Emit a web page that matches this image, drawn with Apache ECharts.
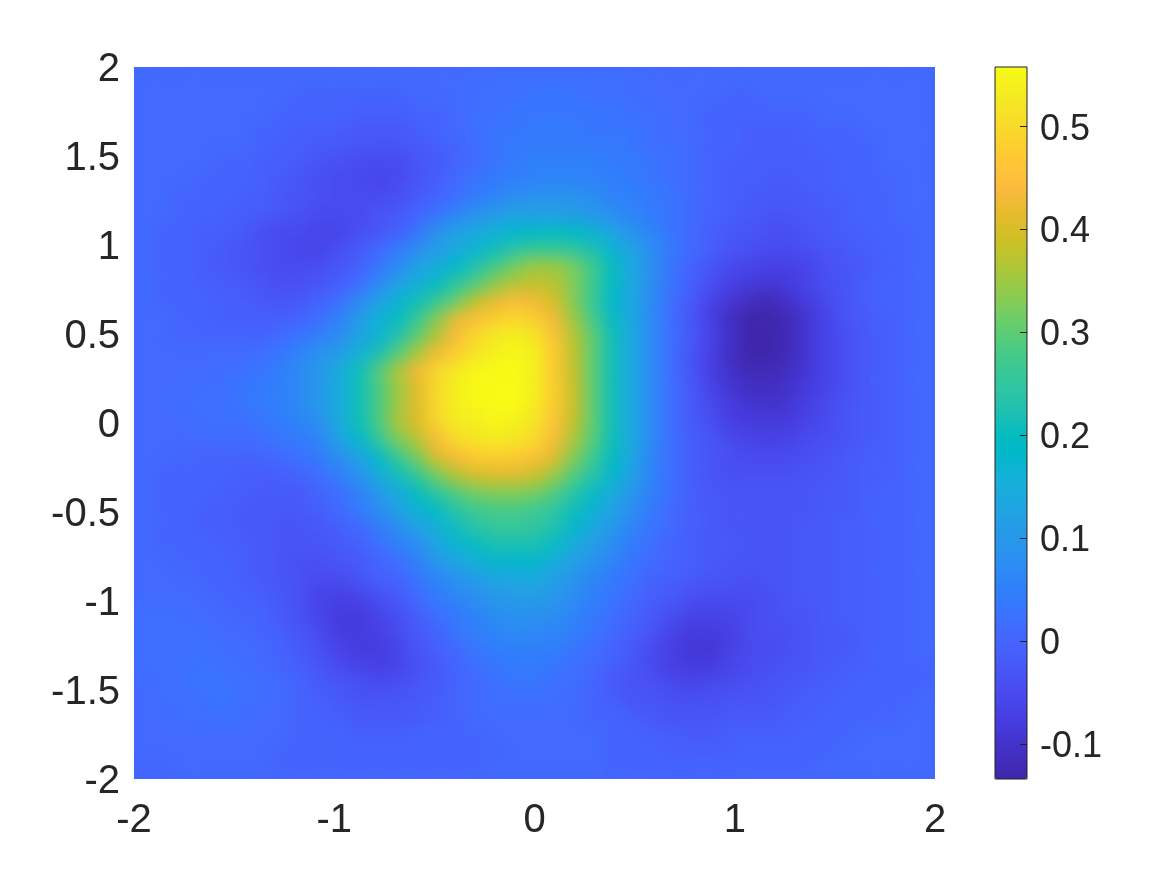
<!DOCTYPE html>
<html><head><meta charset="utf-8">
<style>html,body{margin:0;padding:0;background:#fff}#c{width:1167px;height:875px}</style>
<script src="https://cdn.jsdelivr.net/npm/echarts@6/dist/echarts.min.js"></script>
</head><body><div id="c"></div>
<script>
// cell values, in hundredths; rows run from y=2 (top) to y=-2, columns x=-2 to x=2
const xCells=[-2,-1.9,-1.8,-1.7,-1.6,-1.5,-1.4,-1.3,-1.2,-1.1,-1,-.9,-.8,-.7,-.6,-.5,-.4,-.3,-.2,-.1,0,.1,.2,.3,.4,.5,.6,.7,.8,.9,1,1.1,1.2,1.3,1.4,1.5,1.6,1.7,1.8,1.9,2];
const yCells=[2,1.9,1.8,1.7,1.6,1.5,1.4,1.3,1.2,1.1,1,.9,.8,.7,.6,.5,.4,.3,.2,.1,0,-.1,-.2,-.3,-.4,-.5,-.6,-.7,-.8,-.9,-1,-1.1,-1.2,-1.3,-1.4,-1.5,-1.6,-1.7,-1.8,-1.9,-2];
const valueRows=[
[1,1,1,1,1,1,1,1,1,1,1,1,1,1,1,1,1,1,2,2,2,2,2,2,2,1,1,1,1,1,1,1,1,1,1,1,1,1,1,1,1],
[1,1,1,1,1,1,1,1,0,0,0,0,0,0,1,1,1,2,2,2,3,3,3,2,2,2,1,1,1,1,0,0,1,1,1,1,1,1,1,1,1],
[1,1,1,1,1,1,1,0,0,0,0,-1,-1,-1,0,0,1,2,2,3,3,3,3,3,3,2,2,1,1,0,0,0,0,0,0,1,1,1,1,1,1],
[1,1,1,1,1,1,0,0,-1,-1,-1,-2,-2,-2,-1,0,1,2,3,3,4,4,4,3,3,3,2,1,1,0,0,-1,-1,-1,0,0,0,1,1,1,1],
[1,1,1,1,1,1,0,-1,-1,-2,-2,-3,-3,-3,-2,-1,0,2,3,4,4,4,4,4,4,3,2,2,1,0,0,-1,-1,-1,-1,0,0,0,1,1,1],
[1,1,1,1,0,0,-1,-1,-2,-3,-4,-5,-5,-5,-3,-2,0,1,3,4,5,5,5,5,4,4,3,2,1,0,-1,-1,-1,-1,-1,-1,0,0,1,1,1],
[1,1,1,0,0,0,-1,-2,-3,-4,-5,-5,-6,-5,-3,-1,1,3,4,5,6,6,6,6,5,4,3,2,1,0,-1,-1,-2,-2,-1,-1,0,0,0,1,1],
[1,1,0,0,0,-1,-1,-2,-3,-4,-5,-5,-5,-4,-2,0,2,4,6,8,9,9,9,8,6,5,4,3,1,0,-1,-2,-2,-2,-2,-1,-1,0,0,1,1],
[1,1,0,0,-1,-1,-2,-3,-4,-5,-5,-5,-3,-2,0,3,6,9,11,12,12,12,11,10,8,6,4,3,1,0,-1,-2,-3,-3,-2,-2,-1,0,0,1,1],
[1,0,0,-1,-1,-2,-4,-5,-5,-6,-6,-4,-3,-1,3,9,12,14,16,18,19,20,19,17,13,9,6,3,1,-1,-2,-3,-4,-4,-3,-2,-1,-1,0,0,1],
[1,0,0,-1,-2,-3,-4,-5,-6,-6,-4,-2,1,4,8,11,14,17,21,24,26,26,25,22,17,12,8,4,1,-1,-3,-4,-5,-5,-4,-3,-2,-1,0,0,1],
[1,0,0,-1,-2,-3,-4,-5,-5,-4,-3,-1,3,7,12,15,19,23,28,32,35,35,32,27,20,14,8,3,0,-3,-5,-6,-7,-7,-6,-4,-3,-2,-1,0,1],
[1,0,0,-1,-1,-2,-3,-4,-4,-3,-1,2,7,12,16,20,25,29,34,37,38,37,33,27,20,14,8,3,-1,-4,-7,-8,-9,-8,-6,-4,-3,-1,0,0,1],
[1,0,0,0,-1,-1,-2,-3,-2,0,2,7,12,17,21,26,31,38,42,44,43,40,33,26,18,13,7,2,-2,-6,-9,-11,-12,-10,-8,-5,-3,-1,0,0,1],
[1,1,0,0,-1,-1,-1,-1,0,2,5,11,16,20,26,33,42,45,48,50,48,43,35,28,20,14,7,2,-3,-7,-11,-13,-13,-12,-9,-6,-3,-2,-1,0,1],
[1,1,0,0,0,0,0,1,3,5,8,12,17,23,30,37,44,50,53,54,52,46,37,30,21,14,7,2,-2,-6,-10,-13,-13,-12,-9,-6,-4,-2,-1,0,1],
[1,1,1,1,1,1,2,3,6,9,11,16,22,29,36,43,48,52,54,55,54,47,38,30,21,14,7,2,-3,-7,-11,-13,-13,-12,-9,-6,-4,-2,-1,0,1],
[1,1,1,1,2,2,3,5,7,10,15,21,29,36,43,50,53,55,56,56,54,47,38,30,21,14,7,2,-3,-7,-10,-12,-12,-11,-9,-6,-4,-2,-1,0,1],
[1,1,1,2,2,3,4,5,7,10,15,21,28,35,41,50,54,56,56,56,54,48,39,30,21,14,7,2,-2,-6,-9,-11,-11,-10,-8,-6,-4,-2,-1,0,1],
[1,1,2,2,2,3,4,5,7,10,15,21,28,35,41,50,54,55,56,56,53,47,39,30,21,14,7,2,-2,-5,-8,-9,-10,-9,-7,-5,-3,-2,-1,0,1],
[1,1,1,2,2,2,3,4,6,8,15,21,28,36,41,49,53,54,55,54,52,46,38,30,21,14,7,2,-2,-4,-7,-8,-8,-8,-6,-5,-3,-2,-1,0,1],
[1,1,1,1,1,1,2,3,4,6,12,18,25,32,37,44,50,52,53,52,50,44,36,29,21,14,7,2,-1,-3,-5,-6,-7,-6,-5,-4,-3,-2,-1,0,1],
[1,1,0,0,0,0,0,1,2,4,8,12,18,26,32,40,44,47,48,47,45,41,33,27,20,13,6,2,-1,-3,-4,-5,-5,-5,-4,-3,-2,-1,-1,0,1],
[1,0,0,0,0,-1,-1,-1,0,2,5,9,15,21,26,32,37,40,41,41,39,35,29,24,18,12,6,2,-1,-3,-4,-4,-4,-4,-3,-3,-2,-1,-1,0,1],
[1,0,0,0,-1,-1,-2,-2,-2,0,2,5,10,15,20,25,29,32,33,33,32,29,24,20,15,10,5,2,-1,-2,-3,-3,-3,-3,-3,-2,-2,-1,0,0,1],
[1,0,0,-1,-1,-2,-2,-2,-2,-1,1,4,8,12,17,20,24,27,28,28,27,25,21,17,12,8,4,1,-1,-2,-3,-3,-3,-3,-3,-2,-2,-1,0,0,1],
[1,0,0,-1,-1,-2,-2,-3,-3,-2,-1,1,4,8,12,16,21,24,26,26,25,23,18,14,10,6,3,1,-1,-2,-3,-3,-3,-3,-2,-2,-1,-1,0,0,1],
[1,0,0,0,-1,-1,-2,-3,-3,-3,-2,-1,2,5,8,13,17,20,22,22,22,20,15,11,8,4,2,0,-1,-2,-2,-3,-3,-3,-2,-2,-1,-1,0,0,1],
[1,1,0,0,0,-1,-2,-3,-4,-4,-3,-2,0,2,5,10,13,16,18,18,18,15,12,9,6,3,1,0,-1,-2,-3,-3,-3,-3,-2,-2,-1,-1,0,0,1],
[1,1,1,0,0,-1,-2,-3,-4,-5,-5,-3,-1,0,3,6,9,11,13,14,14,12,9,6,4,2,0,-1,-2,-3,-3,-4,-3,-3,-2,-2,-1,-1,0,0,1],
[1,1,1,1,0,0,-1,-2,-4,-6,-7,-6,-4,-2,1,4,6,8,10,11,11,10,8,5,3,1,-1,-2,-4,-5,-5,-5,-4,-3,-2,-2,-1,-1,0,0,1],
[2,2,2,1,1,0,0,-2,-4,-6,-8,-8,-6,-4,-1,2,4,6,8,9,9,8,6,4,2,0,-2,-4,-6,-6,-6,-5,-4,-3,-3,-2,-1,-1,0,0,1],
[2,2,2,2,1,1,0,-1,-3,-5,-8,-8,-7,-5,-2,0,3,5,6,7,7,6,5,3,1,-1,-3,-6,-8,-8,-7,-5,-4,-4,-3,-2,-2,-1,0,0,1],
[2,2,2,2,2,1,1,0,-2,-4,-6,-8,-8,-6,-3,-1,1,3,5,5,5,5,3,2,0,-2,-5,-7,-9,-9,-7,-5,-5,-4,-3,-2,-2,-1,0,0,1],
[2,2,2,3,2,2,1,0,-1,-3,-5,-6,-7,-6,-4,-2,0,2,3,4,4,3,2,1,-1,-3,-5,-7,-8,-8,-6,-5,-4,-3,-3,-2,-1,-1,0,0,0],
[1,2,2,3,3,2,2,1,0,-2,-3,-4,-5,-4,-3,-2,0,1,2,3,3,2,2,0,-2,-3,-4,-5,-6,-5,-5,-4,-3,-3,-2,-1,-1,0,0,0,0],
[1,2,2,2,3,2,2,1,0,-1,-2,-3,-3,-3,-2,-1,0,1,2,2,2,2,1,0,-1,-3,-3,-4,-4,-4,-3,-3,-3,-2,-1,-1,0,0,0,0,1],
[1,1,2,2,2,2,1,1,0,0,-1,-2,-2,-2,-2,-1,0,1,1,1,1,1,1,0,0,-1,-2,-3,-3,-3,-2,-2,-2,-1,-1,0,0,0,0,1,1],
[1,1,1,1,1,1,1,1,0,0,0,-1,-1,-1,0,0,0,0,1,1,1,1,1,1,0,0,-1,-1,-2,-2,-1,-1,-1,-1,0,0,0,1,1,1,1],
[1,1,1,1,1,1,1,0,0,0,0,0,0,0,0,0,0,0,0,1,1,1,1,1,0,0,0,-1,-1,-1,-1,0,0,0,0,0,1,1,1,1,1],
[0,0,1,1,1,1,1,0,0,0,0,0,0,0,0,0,0,0,1,1,1,1,1,1,0,0,0,0,0,0,0,0,0,0,0,1,1,1,1,1,1]
];
const colorbarTicks=[-0.1,0,0.1,0.2,0.3,0.4,0.5];
const colorMin=-0.134, colorMax=0.558;
const parula=[[.2422,.1504,.6603],[.2504,.165,.7076],[.2578,.1818,.7511],[.2647,.1978,.7952],[.2706,.2147,.8364],[.2751,.2342,.871],[.2783,.2559,.8991],[.2803,.2782,.9221],[.2813,.3006,.9414],[.281,.3228,.9579],[.2795,.3447,.9717],[.276,.3667,.9829],[.2699,.3892,.9906],[.2602,.4123,.9952],[.244,.4358,.9988],[.2206,.4603,.9973],[.1963,.4847,.9892],[.1834,.5074,.9798],[.1786,.5289,.9682],[.1764,.5499,.952],[.1687,.5703,.9359],[.154,.5902,.9218],[.146,.6091,.9079],[.138,.6276,.8973],[.1248,.6459,.8883],[.1113,.6635,.8763],[.0952,.6798,.8598],[.0689,.6948,.8394],[.0297,.7082,.8163],[.0036,.7203,.7917],[.0067,.7312,.766],[.0433,.7411,.7394],[.0964,.75,.712],[.1408,.7584,.6842],[.1717,.767,.6554],[.1938,.7758,.6251],[.2161,.7843,.5923],[.247,.7918,.5567],[.2906,.7973,.5188],[.3406,.8008,.4789],[.3909,.8029,.4354],[.4456,.8024,.3909],[.5044,.7993,.348],[.5616,.7942,.3045],[.6174,.7876,.2612],[.672,.7793,.2227],[.7242,.7698,.191],[.7738,.7598,.1646],[.8203,.7498,.1535],[.8634,.7406,.1596],[.9035,.733,.1774],[.9393,.7288,.21],[.9728,.7298,.2394],[.9956,.7434,.2371],[.997,.7659,.2199],[.9952,.7861,.2028],[.9892,.8122,.185],[.9814,.8363,.1778],[.9739,.8597,.1647],[.9655,.884,.1515],[.9596,.9084,.1398],[.9595,.9329,.1238],[.9634,.9584,.1],[.9769,.9839,.0805]];
const colors=parula.map(c=>`rgb(${c.map(v=>Math.round(v*255)).join(',')})`);
const cells=[];
valueRows.forEach((row,j)=>row.forEach((v,i)=>cells.push([i,j,v/100])));
const ink='#262626';
const font={fontFamily:'Liberation Sans',color:ink};
const off={axisLine:{show:false,onZero:false},axisTick:{show:false},splitLine:{show:false}};
const chart=echarts.init(document.getElementById('c'),null,{renderer:'canvas'});
chart.setOption({
  animation:false,backgroundColor:'#fff',
  grid:[
    {left:134,top:67,width:801,height:712,show:true,borderWidth:0,backgroundColor:'rgb(66,105,254)'},
    {left:995,top:67,width:32,height:712,show:true,borderColor:'#222',borderWidth:1,backgroundColor:'transparent',z:6},
    {left:134,top:70,width:801,height:712},   // y tick labels sit 3px under their ticks in the reference
    {left:995,top:70,width:32,height:712}
  ],
  xAxis:[
    {type:'category',gridIndex:0,data:xCells,show:false},
    {type:'value',gridIndex:0,min:-2,max:2,interval:1,position:'bottom',...off,axisLabel:{...font,fontSize:40,margin:22,showMinLabel:true,showMaxLabel:true}},
    {type:'value',gridIndex:1,min:0,max:1,show:false},
    {type:'value',gridIndex:2,min:0,max:1,show:false},
    {type:'value',gridIndex:3,min:0,max:1,show:false}
  ],
  yAxis:[
    {type:'category',gridIndex:0,data:yCells,inverse:true,show:false},
    {type:'value',gridIndex:2,min:-2,max:2,interval:0.5,position:'left',...off,axisLabel:{...font,fontSize:40,margin:14,showMinLabel:true,showMaxLabel:true}},
    {type:'value',gridIndex:1,min:colorMin,max:colorMax,position:'right',z:7,axisLine:{show:false,onZero:false},splitLine:{show:false},
      axisTick:{show:true,inside:true,length:7,lineStyle:{color:'#222',width:1},customValues:colorbarTicks},axisLabel:{show:false}},
    {type:'value',gridIndex:3,min:colorMin,max:colorMax,position:'right',...off,
      axisLabel:{...font,fontSize:36,margin:13,customValues:colorbarTicks,formatter:v=>String(Math.round(v*10)/10)}}
  ],
  visualMap:{type:'continuous',min:colorMin,max:colorMax,seriesIndex:0,show:true,calculable:false,hoverLink:false,left:995,top:67,padding:0,itemWidth:32,itemHeight:712,orient:'vertical',text:null,showLabel:false,z:1,inRange:{color:colors}},
  series:[{type:'heatmap',xAxisIndex:0,yAxisIndex:0,data:cells,progressive:0,zlevel:1,itemStyle:{borderWidth:0},emphasis:{disabled:true}}]
});
// the reference's field is nearly smooth: soften the heatmap's own layer, clipped to the plot area
const layer=document.querySelector('#c canvas[data-zr-dom-id="zr_1"]');
if(layer){layer.style.filter='blur(8px)';layer.style.clipPath='inset(67px 232px 96px 134px)';}
</script></body></html>
